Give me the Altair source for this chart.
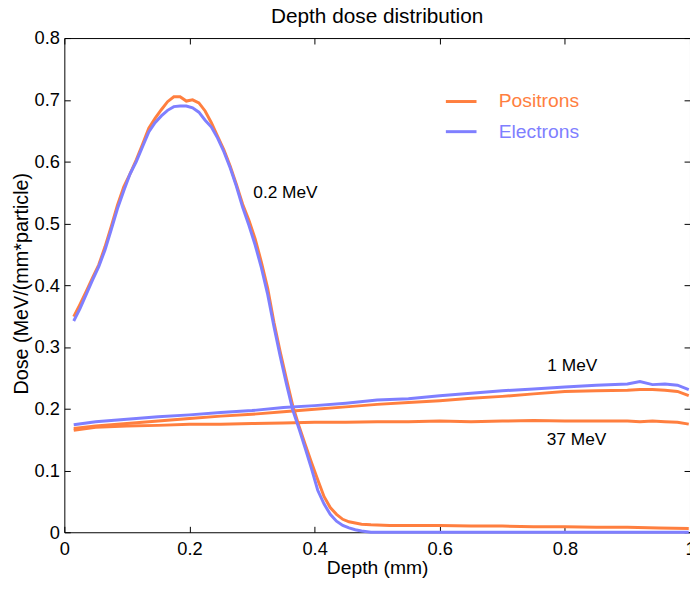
import altair as alt
import pandas as pd

FONT = "Liberation Sans"
ORANGE = "#ff7f3f"
BLUE = "#7f7fff"

X_TICKS = [0, 0.2, 0.4, 0.6, 0.8, 1.0]
Y_TICKS = [0, 0.1, 0.2, 0.3, 0.4, 0.5, 0.6, 0.7, 0.8]

# 0.2 MeV curves
x_02 = [0.015, 0.025, 0.035, 0.045, 0.055, 0.065, 0.075, 0.085, 0.095, 0.105,
        0.115, 0.125, 0.135, 0.145, 0.155, 0.165, 0.175, 0.185, 0.195, 0.205,
        0.215, 0.225, 0.235, 0.245, 0.255, 0.265, 0.275, 0.285, 0.295, 0.305,
        0.315, 0.325, 0.335, 0.345, 0.355, 0.365, 0.375, 0.385, 0.395, 0.405,
        0.415, 0.425, 0.435, 0.445, 0.455, 0.465, 0.475, 0.49, 0.52, 0.56,
        0.6, 0.65, 0.7, 0.75, 0.8, 0.85, 0.9, 0.95, 0.998]
pos_02 = [0.349, 0.369, 0.390, 0.412, 0.433, 0.462, 0.495, 0.530, 0.559, 0.580,
          0.603, 0.628, 0.654, 0.670, 0.684, 0.697, 0.705, 0.705, 0.698, 0.700,
          0.695, 0.682, 0.663, 0.641, 0.619, 0.593, 0.563, 0.531, 0.505, 0.475,
          0.437, 0.395, 0.340, 0.292, 0.248, 0.205, 0.172, 0.142, 0.113, 0.085,
          0.058, 0.040, 0.029, 0.021, 0.017, 0.015, 0.013, 0.012, 0.011, 0.011,
          0.011, 0.010, 0.010, 0.009, 0.009, 0.008, 0.008, 0.007, 0.006]
ele_02 = [0.342, 0.362, 0.385, 0.408, 0.430, 0.457, 0.490, 0.524, 0.553, 0.580,
          0.600, 0.624, 0.648, 0.663, 0.674, 0.683, 0.689, 0.690, 0.690, 0.687,
          0.680, 0.667, 0.656, 0.638, 0.616, 0.590, 0.560, 0.526, 0.497, 0.465,
          0.428, 0.385, 0.333, 0.285, 0.240, 0.198, 0.168, 0.136, 0.103, 0.068,
          0.046, 0.029, 0.018, 0.011, 0.007, 0.004, 0.002, 0.000, 0.000, 0.000,
          0.000, 0.000, 0.000, 0.000, 0.000, 0.000, 0.000, 0.000, 0.000]

# 1 MeV and 37 MeV curves
x_hi = [0.015, 0.05, 0.1, 0.15, 0.2, 0.25, 0.3, 0.35, 0.4, 0.45, 0.5, 0.55,
        0.6, 0.65, 0.7, 0.75, 0.8, 0.85, 0.9, 0.92, 0.94, 0.96, 0.98, 0.998]
ele_1 = [0.174, 0.179, 0.183, 0.187, 0.190, 0.194, 0.197, 0.202, 0.205, 0.209,
         0.214, 0.216, 0.221, 0.225, 0.229, 0.232, 0.235, 0.238, 0.240, 0.244,
         0.239, 0.240, 0.238, 0.231]
pos_1 = [0.168, 0.172, 0.176, 0.180, 0.184, 0.188, 0.191, 0.195, 0.199, 0.203,
         0.207, 0.210, 0.213, 0.217, 0.220, 0.224, 0.228, 0.229, 0.230, 0.231,
         0.231, 0.230, 0.228, 0.221]
pos_37 = [0.165, 0.170, 0.172, 0.173, 0.175, 0.175, 0.176, 0.177, 0.178, 0.178,
          0.179, 0.179, 0.180, 0.179, 0.180, 0.181, 0.180, 0.180, 0.180, 0.179,
          0.180, 0.179, 0.178, 0.175]

# annotations
ann_text = ["0.2 MeV", "1 MeV", "37 MeV"]
ann_x = [0.302, 0.772, 0.771]
ann_y = [0.549, 0.269, 0.149]


def frame(xs, ys, particle, curve):
    return pd.DataFrame({"depth": xs, "dose": ys, "particle": particle, "curve": curve})


pos_df = pd.concat([
    frame(x_02, pos_02, "Positrons", "p02"),
    frame(x_hi, pos_1, "Positrons", "p1"),
    frame(x_hi, pos_37, "Positrons", "p37"),
])
ele_df = pd.concat([
    frame(x_02, ele_02, "Electrons", "e02"),
    frame(x_hi, ele_1, "Electrons", "e1"),
])
ann_df = pd.DataFrame({"depth": ann_x, "dose": ann_y, "label": ann_text})

W, H = 633, 500
xscale = alt.Scale(domain=[0, 1], nice=False, zero=False)
yscale = alt.Scale(domain=[0, 0.8], nice=False, zero=False)

legend = alt.Legend(
    orient="none", legendX=384.5, legendY=47.2, title=None,
    symbolType="stroke", symbolSize=961, symbolStrokeWidth=3,
    labelOffset=21, rowPadding=3.5, padding=0, labelFontSize=19.5, labelFont=FONT,
    labelColor=alt.ExprRef(expr="datum.label == 'Positrons' ? '%s' : '%s'" % (ORANGE, BLUE)),
)
color = alt.Color("particle:N",
                  scale=alt.Scale(domain=["Positrons", "Electrons"], range=[ORANGE, BLUE]),
                  legend=legend)

x_main = alt.X("depth:Q", scale=xscale, axis=alt.Axis(
    orient="bottom", values=X_TICKS, ticks=False, tickSize=0, domain=False,
    labelFlush=False, labelPadding=23, labelBaseline="alphabetic", format="~g",
    labelFontSize=18.5, labelFont=FONT, labelColor="black",
    title="Depth (mm)", titleFontSize=19.5, titleFont=FONT, titleFontWeight="normal",
    titleColor="black", titleX=W / 2, titleY=42, titleBaseline="alphabetic",
    grid=False))
y_main = alt.Y("dose:Q", scale=yscale, axis=alt.Axis(
    orient="left", values=Y_TICKS, ticks=False, tickSize=0, domain=False,
    labelPadding=5, format="~g", labelFontSize=18.5, labelFont=FONT, labelColor="black",
    title="Dose (MeV/(mm*particle)", titleFontSize=20, titleFont=FONT,
    titleFontWeight="normal", titleColor="black", titleX=-43, titleY=H / 2 - 2,
    titleAngle=270, titleBaseline="middle", grid=False))

lines_pos = alt.Chart(pos_df).mark_line(strokeWidth=3).encode(
    x=x_main, y=y_main, color=color, detail="curve:N")

lines_ele = alt.Chart(ele_df).mark_line(strokeWidth=3).encode(
    x=alt.X("depth:Q", scale=xscale, axis=None),
    y=alt.Y("dose:Q", scale=yscale, axis=None),
    color=color, detail="curve:N")

labels = alt.Chart(ann_df).mark_text(
    align="left", baseline="middle", fontSize=17.5, font=FONT, color="black"
).encode(
    x=alt.X("depth:Q", scale=xscale, axis=None),
    y=alt.Y("dose:Q", scale=yscale, axis=None),
    text="label:N")


def tick_axis(orient, off, vals):
    return alt.Axis(orient=orient, offset=off, values=vals, labels=False,
                    domain=False, ticks=True, tickSize=6, tickColor="black",
                    tickWidth=1, title=None, grid=False)


ticks_a = alt.Chart(ann_df).mark_point(opacity=0).encode(
    x=alt.X("depth:Q", scale=xscale, axis=tick_axis("top", -H, X_TICKS)),
    y=alt.Y("dose:Q", scale=yscale, axis=tick_axis("right", -W, Y_TICKS)))
ticks_b = alt.Chart(ann_df).mark_point(opacity=0).encode(
    x=alt.X("depth:Q", scale=xscale, axis=tick_axis("bottom", -H, X_TICKS)),
    y=alt.Y("dose:Q", scale=yscale, axis=tick_axis("left", -W, Y_TICKS)))

chart = alt.layer(lines_pos, lines_ele, labels, ticks_a, ticks_b).resolve_axis(
    x="independent", y="independent"
).properties(
    width=W, height=H,
    autosize=alt.AutoSizeParams(type="none"),
    padding={"left": 57, "top": 27, "right": 0, "bottom": 55},
    title=alt.TitleParams("Depth dose distribution", fontSize=21, font=FONT,
                          fontWeight="normal", color="black", anchor="middle",
                          baseline="alphabetic", offset=4, dy=19),
    background="white",
).configure_view(stroke="black", strokeWidth=1)

chart.save("out.html", embed_options={"renderer": "svg", "actions": False})
